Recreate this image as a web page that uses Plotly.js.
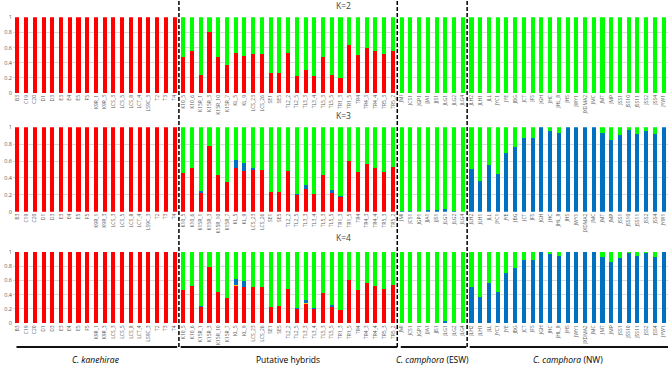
<!DOCTYPE html>
<html><head><meta charset="utf-8">
<script src="https://cdn.plot.ly/plotly-3.0.1.min.js"></script>
<style>html,body{margin:0;padding:0;background:#fff}#chart{width:670px;height:366px}</style>
</head><body><div id="chart"></div>
<script>
// sample names by group
var kanehirae = ['B3','C19','C20','D1','D3','E3','E4','E5','F5','K9R_1','K9R_3','LCS_3','LCS_5','LCS_8','LCT_4','LS9C_3','T2','T3','T4'];
var hybrids = ['K10_5','K10_6','K15R_1','K15R_3','K15R_10','K15R_7','KL_5','KL_9','LCS_23','LCS_26','SE1','SE5','TL2_2','TL2_5','TL3_3','TL3_4','TL5_3','TL5_5','TR1_3','TR1_5','TR4','TR4_3','TR4_4','TR5_3','TR5_2'];
var esw = ['JMI','JCS1','JGP1','JJA1','JJS1','JLG1','JLG2','JLG4'];
var nw = ['JLH2','JLH1','JLL','JYC1','JYE','JBG','JCT','JFS','JGH','JHC','JHL_8','JHS','JWY1','JXDMA2','JMC','JMT','JMP','JSS1','JSS10','JSS11','JSS2','JSS4','JYW1'];
var samples = kanehirae.concat(hybrids, esw, nw);

// K=2 (red cluster; green is the remainder)
var k2Red = [1,1,1,1,1,1,1,1,1,1,1,1,1,1,1,1,1,1,1,
  0.48,0.55,0.24,0.80,0.47,0.37,0.53,0.49,0.52,0.52,0.26,0.27,0.53,0.22,0.30,0.22,0.47,0.24,0.20,0.64,0.50,0.60,0.56,0.52,0.56,
  0,0,0,0,0,0,0,0,
  0,0,0,0,0,0,0,0,0,0,0,0,0,0,0,0,0,0,0,0,0,0,0];

// K=3
var k3Red = [1,1,1,1,1,1,1,1,1,1,1,1,1,1,1,1,1,1,1,
  0.455,0.52,0.225,0.78,0.44,0.355,0.52,0.485,0.50,0.50,0.23,0.235,0.48,0.20,0.27,0.205,0.43,0.225,0.18,0.60,0.465,0.57,0.52,0.475,0.53,
  0,0,0,0,0,0,0,0,
  0,0,0,0,0,0,0,0,0,0,0,0,0,0,0,0,0,0,0,0,0,0,0];
var k3Blue = [0,0,0,0,0,0,0,0,0,0,0,0,0,0,0,0,0,0,0,
  0,0,0.015,0,0,0,0.095,0.095,0.012,0,0,0,0,0.01,0.05,0.008,0,0.03,0.012,0,0,0,0,0,0,
  0.012,0.004,0,0.016,0.024,0.032,0.008,0,
  0.51,0.365,0.555,0.445,0.69,0.77,0.875,0.875,1,0.96,0.93,1,1,1,1,0.93,0.85,0.905,0.97,0.925,0.955,0.915,1];

// K=4
var k4Red = [1,1,1,1,1,1,1,1,1,1,1,1,1,1,1,1,1,1,1,
  0.46,0.525,0.23,0.79,0.44,0.36,0.525,0.50,0.50,0.50,0.23,0.235,0.485,0.20,0.275,0.205,0.43,0.225,0.18,0.605,0.465,0.565,0.525,0.48,0.54,
  0,0,0,0,0,0,0,0,
  0,0,0,0,0,0,0,0,0,0,0,0,0,0,0,0,0,0,0,0,0,0,0];
var k4Yellow = [0,0,0,0,0,0,0,0,0,0,0,0,0,0,0,0,0,0,0,
  0,0,0,0,0,0,0.012,0.005,0,0,0,0,0,0,0.01,0,0,0.005,0,0,0,0,0,0,0,
  0,0,0,0,0,0,0,0,
  0,0,0,0,0,0,0,0,0,0,0,0,0,0,0,0,0,0,0,0,0,0,0];
var k4Blue = [0,0,0,0,0,0,0,0,0,0,0,0,0,0,0,0,0,0,0,
  0,0,0.01,0,0,0,0.075,0.09,0.01,0,0,0,0,0.01,0.045,0.005,0,0.025,0.01,0,0,0,0,0,0,
  0.005,0.003,0,0.005,0.008,0.028,0.005,0,
  0.51,0.365,0.565,0.44,0.70,0.77,0.885,0.88,1,0.97,0.94,1,1,1,1,0.93,0.86,0.91,0.98,0.945,0.975,0.93,1];

var groupNames = ['C. kanehirae','Putative hybrids','C. camphora (ESW)','C. camphora (NW)'];
var panelLabels = ['K=2','K=3','K=4'];

var RED='#FF0000', GREEN='#00FF00', BLUE='#0070C0', YEL='#FFC000';
function remainder(){ var arrs=arguments; return samples.map(function(_,i){var s=0;for(var j=0;j<arrs.length;j++)s+=arrs[j][i];return Math.max(0,1-s);}); }
function bar(y,color,xa,ya){return {type:'bar',x:samples,y:y,marker:{color:color,line:{width:0}},xaxis:xa,yaxis:ya,hoverinfo:'skip'};}

var data = [
  bar(k2Red,RED,'x','y'), bar(remainder(k2Red),GREEN,'x','y'),
  bar(k3Red,RED,'x2','y2'), bar(k3Blue,BLUE,'x2','y2'), bar(remainder(k3Red,k3Blue),GREEN,'x2','y2'),
  bar(k4Red,RED,'x3','y3'), bar(k4Yellow,YEL,'x3','y3'), bar(k4Blue,BLUE,'x3','y3'), bar(remainder(k4Red,k4Yellow,k4Blue),GREEN,'x3','y3')
];

var H=366;
function dom(top,bottom){return [1-bottom/H,1-top/H];}
function xax(anchor){return {type:'category',anchor:anchor,domain:[0,1],range:[-0.5,samples.length-0.5],tickangle:-90,
  tickfont:{size:5,color:'#595959',family:'Open Sans'},showgrid:false,showline:false,zeroline:false,ticks:'',automargin:false,fixedrange:true};}
function yax(d,anchor){return {domain:d,anchor:anchor,range:[0,1],tickvals:[0,0.2,0.4,0.6,0.8,1],ticktext:['0','0.2','0.4','0.6','0.8','1'],
  tickfont:{size:5.5,color:'#595959',family:'Open Sans'},gridcolor:'#d9d9d9',gridwidth:1,zeroline:false,showline:false,ticks:'',automargin:false};}

var seps=[kanehirae.length-0.5, kanehirae.length+hybrids.length-0.5, kanehirae.length+hybrids.length+esw.length-0.5];
var shapes=seps.map(function(s){return {type:'line',xref:'x3',yref:'paper',x0:s,x1:s,y0:1-347/H,y1:1,line:{color:'#000',width:1.5,dash:'4px,2px'}};});
var n1=kanehirae.length,n2=n1+hybrids.length,n3=n2+esw.length,n4=n3+nw.length;
var brackets=[[-0.1,n1-0.7],[n1-0.3,n2-0.5],[n2-0.1,n3-0.6],[n3-0.2,n4-0.4]];
brackets.forEach(function(b){shapes.push({type:'line',xref:'x3',yref:'paper',x0:b[0],x1:b[1],y0:1-347/H,y1:1-347/H,line:{color:'#111',width:2}});});

var annotations=[];
var centers=[(n1-1)/2,(n1+n2-1)/2,(n2+n3-1)/2,(n3+n4-1)/2];
var gtexts=['<i>C. kanehirae</i>','Putative hybrids','<i>C. camphora</i> (ESW)','<i>C. camphora</i> (NW)'];
gtexts.forEach(function(t,i){annotations.push({text:t,xref:'x3',yref:'paper',x:centers[i],y:1-359/H,showarrow:false,
  font:{size:8.5,color:'#000',family:'Open Sans'},xanchor:'center',yanchor:'middle'});});
var ky=[5,115,238];
panelLabels.forEach(function(t,i){annotations.push({text:t,xref:'paper',yref:'paper',x:338/670,y:1-ky[i]/H,showarrow:false,
  font:{size:8.5,color:'#404040',family:'Open Sans'},xanchor:'center',yanchor:'middle'});});

var layout={width:670,height:366,margin:{l:13,r:2,t:0,b:0},paper_bgcolor:'#fff',plot_bgcolor:'#fff',
  barmode:'stack',bargap:0.54,showlegend:false,
  xaxis:xax('y'),xaxis2:xax('y2'),xaxis3:xax('y3'),
  yaxis:yax(dom(17.3,93),'x'),yaxis2:yax(dom(127.3,211.7),'x2'),yaxis3:yax(dom(251.7,323.3),'x3'),
  shapes:shapes,annotations:annotations};
Plotly.newPlot('chart',data,layout,{staticPlot:true,displayModeBar:false});
</script></body></html>
